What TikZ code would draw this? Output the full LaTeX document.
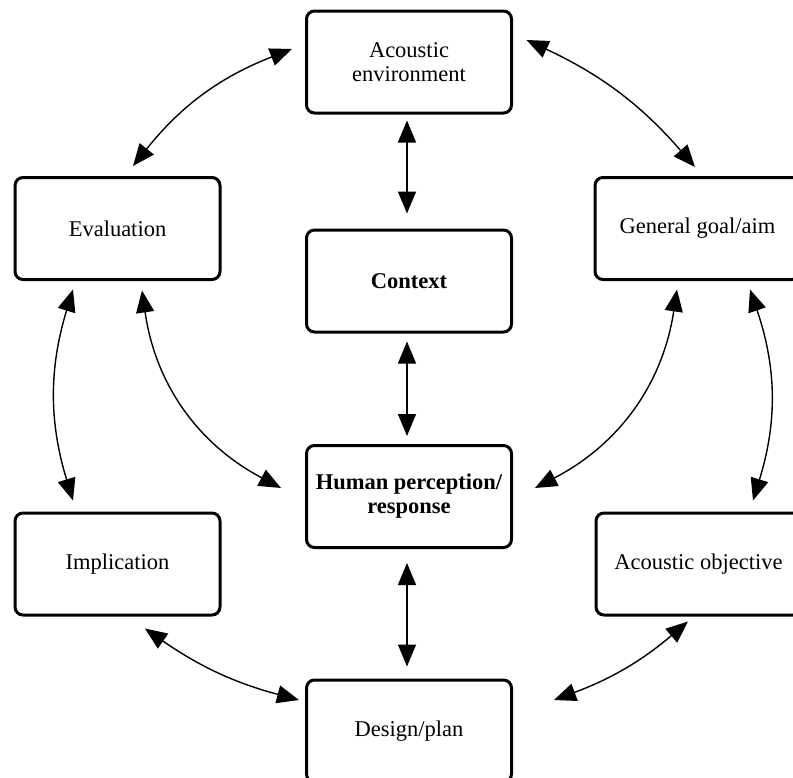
\documentclass[tikz,border=0pt]{standalone}
\usepackage{fontspec}
\setmainfont{Liberation Serif}
\usetikzlibrary{arrows.meta}
\begin{document}
\begin{tikzpicture}[x=1pt,y=1pt,
  box/.style={draw, line width=3pt, rounded corners=8pt, fill=white,
    minimum width=205pt, minimum height=102pt, align=center, inner sep=0pt,
    font=\fontsize{22.5}{24}\selectfont},
  strongbox/.style={box, font=\fontsize{22.5}{24}\selectfont\bfseries},
  link/.style={line width=1.4pt, {Triangle[length=22pt,width=18pt]}-{Triangle[length=22pt,width=18pt]}}
]
\useasboundingbox (0,0) rectangle (793,-777);
\begin{scope}
\clip (0,0) rectangle (793,-777);
\node[box] (env) at (409,-62) {Acoustic\\environment};
\node[box] (eval) at (117.5,-228.5) {Evaluation};
\node[box] (goal) at (697.5,-228.5) {General goal/aim};
\node[strongbox] (ctx) at (409,-281) {Context};
\node[strongbox] (hum) at (409,-496.5) {Human perception/\\response};
\node[box] (impl) at (117.5,-564) {Implication};
\node[box] (obj) at (698.5,-564) {Acoustic objective};
\node[box] (des) at (409,-731) {Design/plan};
\end{scope}

\draw[link] ([shift={(15.5pt,10pt)}]eval.north) to[bend left=15] ([shift={(-13pt,13pt)}]env.west);
\draw[link] ([shift={(13.5pt,22pt)}]env.east) to[bend left=12] ([shift={(-2.5pt,9pt)}]goal.north);
\draw[link] ([shift={(-44.5pt,-8.5pt)}]eval.south) to[bend right=17] ([shift={(-44.5pt,11pt)}]impl.north);
\draw[link] ([shift={(24.5pt,-9.5pt)}]eval.south) to[bend right=27] ([shift={(-24pt,8.5pt)}]hum.west);
\draw[link] ([shift={(-20.5pt,-8.5pt)}]goal.south) to[bend left=27] ([shift={(22pt,8.5pt)}]hum.east);
\draw[link] ([shift={(52.5pt,-8.5pt)}]goal.south) to[bend left=18] ([shift={(54.5pt,11pt)}]obj.north);
\draw[link] ([shift={(-2pt,-6pt)}]env.south) -- ([shift={(-2pt,15pt)}]ctx.north);
\draw[link] ([shift={(-2pt,-8pt)}]ctx.south) -- ([shift={(-2pt,8pt)}]hum.north);
\draw[link] ([shift={(-2pt,-14pt)}]hum.south) -- ([shift={(-2pt,12pt)}]des.north);
\draw[link] ([shift={(27.5pt,-12pt)}]impl.south) to[bend right=10] ([shift={(-6pt,31pt)}]des.west);
\draw[link] ([shift={(-10.5pt,-5pt)}]obj.south) to[bend left=10] ([shift={(41pt,31pt)}]des.east);
\end{tikzpicture}
\end{document}
